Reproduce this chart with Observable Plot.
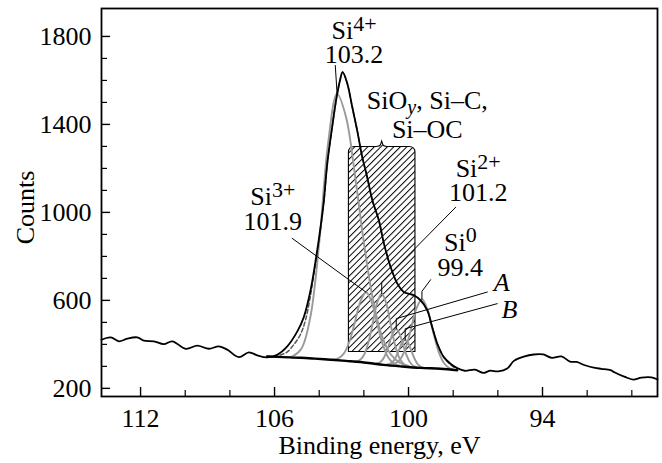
<!DOCTYPE html>
<html>
<head>
<meta charset="utf-8">
<script src="https://cdn.jsdelivr.net/npm/d3@7"></script>
<script src="https://cdn.jsdelivr.net/npm/@observablehq/plot@0.6"></script>
<style>
  body { margin: 0; background: #fff; }
  #chart svg { display: block; }
</style>
</head>
<body>
<div id="chart"></div>
<script>
// Si 2p region: measured counts versus binding energy (eV)
const dataE = [113.75, 113.34, 112.97, 112.60, 112.15, 111.85, 111.40, 110.96, 110.58, 109.98,
  109.46, 108.94, 108.49, 108.12, 107.60, 107.15, 106.77, 106.33, 105.88, 105.43,
  104.98, 104.69, 104.39, 104.16, 103.94, 103.79, 103.64, 103.42, 103.22, 103.07,
  102.95, 102.74, 102.52, 102.30, 102.07, 101.85, 101.62, 101.33, 101.10, 100.80,
  100.50, 100.21, 99.76, 99.46, 99.16, 98.94, 98.71, 98.42, 98.12, 97.82,
  97.48, 97.03, 96.65, 96.36, 95.98, 95.58, 95.28, 94.84, 94.39, 93.97,
  93.59, 93.15, 92.77, 92.47, 92.10, 91.65, 91.36, 90.95, 90.76, 90.31,
  89.94, 89.57, 89.12, 88.85];
const dataC = [421, 432, 414, 426, 432, 417, 414, 401, 414, 380,
  394, 380, 391, 376, 342, 364, 350, 341, 353, 391,
  459, 524, 645, 782, 933, 1055, 1221, 1388, 1524, 1600,
  1638, 1585, 1479, 1373, 1251, 1160, 1055, 964, 858, 751,
  676, 638, 623, 600, 555, 479, 403, 342, 312, 292,
  280, 285, 270, 280, 277, 290, 325, 344, 354, 354,
  339, 345, 322, 320, 305, 293, 289, 283, 272, 252,
  240, 249, 250, 240];

// Fitted envelope (sum of components plus background)
const envE = [106.33, 106.03, 105.73, 105.43, 105.13, 104.84, 104.61, 104.39, 104.16, 103.94,
  103.79, 103.64, 103.42, 103.22, 103.07, 102.95, 102.74, 102.52, 102.30, 102.07,
  101.85, 101.62, 101.33, 101.10, 100.80, 100.50, 100.21, 99.76, 99.46, 99.16,
  98.94, 98.71, 98.42, 98.12, 97.82];
const envC = [346, 347, 352, 366, 400, 445, 512, 622, 770, 925,
  1048, 1221, 1388, 1524, 1600, 1638, 1585, 1479, 1373, 1251,
  1160, 1055, 964, 858, 751, 676, 638, 623, 600, 555,
  479, 403, 342, 308, 286];

// Shirley-type background
const bgE = [106.33, 105.6, 104.84, 104.2, 103.49, 102.8, 102.15, 101.6, 101.12, 100.36, 99.46, 98.57, 97.82];
const bgC = [345, 342, 339, 335, 330, 325, 320, 313, 307, 300, 293, 289, 282];

// Fit components (drawn on top of the background)
const si4E = [105.6, 105.2, 104.8, 104.4, 104.0, 103.6, 103.2, 102.8, 102.4, 102.0, 101.6, 101.2, 100.8, 100.4, 100.0];
const si4C = [341, 346, 380, 522, 861, 1316, 1540, 1434, 1170, 862, 607, 441, 355, 317, 302];
const si3E = [103.4, 103.15, 102.9, 102.65, 102.4, 102.15, 101.9, 101.65, 101.4, 101.15, 100.9, 100.65, 100.4];
const si3C = [331, 336, 358, 412, 502, 597, 637, 592, 493, 399, 339, 313, 303];
const si2E = [102.4, 102.2, 102.0, 101.8, 101.6, 101.4, 101.2, 101.0, 100.8, 100.6, 100.4, 100.2, 100.0];
const si2C = [322, 328, 351, 407, 498, 591, 630, 587, 490, 396, 336, 310, 300];
const aE = [101.45, 101.3, 101.15, 101.0, 100.85, 100.7, 100.55, 100.4, 100.25, 100.1, 99.95, 99.8, 99.65];
const aC = [313, 317, 332, 361, 407, 451, 470, 448, 401, 353, 321, 303, 297];
const bE = [100.99, 100.85, 100.71, 100.57, 100.43, 100.29, 100.15, 100.01, 99.87, 99.73, 99.59, 99.45, 99.31];
const bC = [308, 311, 320, 342, 375, 407, 420, 405, 370, 335, 310, 298, 293];
const si0E = [100.9, 100.65, 100.4, 100.15, 99.9, 99.65, 99.4, 99.15, 98.9, 98.65, 98.4, 98.15, 97.9];
const si0C = [307, 311, 328, 377, 465, 562, 605, 558, 457, 366, 313, 291, 283];

// Peak positions and apex counts: Si4+, Si3+, Si2+, Si0, A, B
const peakCenters = [103.2, 101.9, 101.2, 99.4, 100.55, 100.15];
const peakTops = [1540, 637, 630, 605, 470, 420];
// Leader lines: label-side end, and the knee above each apex
const leadE = [103.28, 105.21, 97.89, 99.01, 96.47, 96.03];
const leadC = [1668, 882, 1023, 694, 638, 585];
const kneeC = [1540, 637, 683, 641, 517, 471];

// Peak labels
const labelNames = ["Si^{4+}", "Si^{3+}", "Si^{2+}", "Si^{0}"];
const labelE = [102.44, 106.08, 96.88, 97.68];
const labelNameC = [1826, 1071, 1197, 864];
const labelValueC = [1715, 958, 1091, 750];
const letterNames = ["A", "B"];
const letterE = [95.83, 95.48];
const letterC = [682, 560];

// Shaded SiOy / Si–C / Si–OC region
const bandE = [102.67, 99.69];
const bandC = [365, 1297];
const groupLines = ["SiO_{y}, Si–C,", "Si–OC"];
const groupE = 99.16;
const groupC = [1508, 1376];

// Axis ticks
const xMajor = [112, 106, 100, 94];
const xMinor = [110, 108, 104, 102, 98, 96, 92, 90];
const yMajor = [200, 600, 1000, 1400, 1800];
const yMinor = [300, 400, 500, 700, 800, 900, 1100, 1200, 1300, 1500, 1600, 1700];

// ---- tables for the marks ----
const zip = (E, C, extra = {}) => E.map((e, i) => ({e, c: C[i], ...extra}));
const raw = zip(dataE, dataC);
const envelope = zip(envE, envC);
const background = zip(bgE, bgC);
const components = [
  ...zip(si4E, si4C, {name: "Si4+"}),
  ...zip(si3E, si3C, {name: "Si3+"}),
  ...zip(si2E, si2C, {name: "Si2+"}),
  ...zip(aE, aC, {name: "A"}),
  ...zip(bE, bC, {name: "B"}),
  ...zip(si0E, si0C, {name: "Si0"})
];
const leaders = peakCenters.flatMap((p, i) => [
  {id: i, e: leadE[i], c: leadC[i]},
  {id: i, e: p, c: kneeC[i]},
  {id: i, e: p, c: peakTops[i]}
]);
const names = labelNames.map((t, i) => ({t, e: labelE[i], c: labelNameC[i]}));
const values = labelNames.map((t, i) => ({t: peakCenters[i].toFixed(1), e: labelE[i], c: labelValueC[i]}));
const letters = letterNames.map((t, i) => ({t, e: letterE[i], c: letterC[i]}));
const group = groupLines.map((t, i) => ({t, e: groupE, c: groupC[i]}));
const band = [{x1: bandE[0], x2: bandE[1], y1: bandC[0], y2: bandC[1]}];

const W = 662, H = 463;
const M = {top: 8, right: 5, bottom: 67, left: 101};
const innerW = W - M.left - M.right;
const innerH = H - M.top - M.bottom;

const chart = Plot.plot({
  width: W,
  height: H,
  marginTop: M.top,
  marginRight: M.right,
  marginBottom: M.bottom,
  marginLeft: M.left,
  x: {domain: [113.75, 88.85]},
  y: {domain: [163, 1927]},
  style: {fontFamily: "'Liberation Serif', 'Times New Roman', serif", fontSize: "26px", background: "#fff", color: "#000"},
  marks: [
    Plot.rect(band, {x1: "x1", x2: "x2", y1: "y1", y2: "y2", fill: "url(#hatch)", stroke: "#000", strokeWidth: 1.1}),
    Plot.line(components, {x: "e", y: "c", z: "name", stroke: "#999", strokeWidth: 1.9, curve: "catmull-rom"}),
    Plot.line(envelope, {x: "e", y: "c", stroke: "#555", strokeWidth: 1.5, strokeDasharray: "4 2.5", curve: "catmull-rom"}),
    Plot.line(background, {x: "e", y: "c", stroke: "#000", strokeWidth: 2.4, curve: "catmull-rom"}),
    Plot.line(raw, {x: "e", y: "c", stroke: "#000", strokeWidth: 1.8, curve: "catmull-rom"}),
    Plot.line(leaders, {x: "e", y: "c", z: "id", stroke: "#000", strokeWidth: 1}),
    Plot.text(names, {x: "e", y: "c", text: "t"}),
    Plot.text(values, {x: "e", y: "c", text: "t"}),
    Plot.text(group, {x: "e", y: "c", text: "t"}),
    Plot.text(letters, {x: "e", y: "c", text: "t", fontStyle: "italic"}),
    Plot.tickX(xMajor, {x: d => d, insetTop: innerH - 9, stroke: "#000", strokeWidth: 1.4}),
    Plot.tickX(xMinor, {x: d => d, insetTop: innerH - 6, stroke: "#000", strokeWidth: 1.2}),
    Plot.tickY(yMajor, {y: d => d, insetRight: innerW - 9, stroke: "#000", strokeWidth: 1.4}),
    Plot.tickY(yMinor, {y: d => d, insetRight: innerW - 6, stroke: "#000", strokeWidth: 1.2}),
    Plot.axisX(xMajor, {tickSize: 0, tickPadding: 12, tickFormat: d => String(d), label: null}),
    Plot.axisY(yMajor, {tickSize: 0, tickPadding: 10, tickFormat: d => String(d), label: null}),
    Plot.text(["Binding energy, eV"], {text: d => d, frameAnchor: "bottom", lineAnchor: "middle", textAnchor: "middle", dy: 49}),
    Plot.text(["Counts"], {text: d => d, frameAnchor: "left", lineAnchor: "middle", textAnchor: "middle", rotate: -90, dx: -76, dy: 5}),
    Plot.frame({stroke: "#000", strokeWidth: 1.8})
  ]
});

const NS = "http://www.w3.org/2000/svg";

// Diagonal hatching used by the shaded region
const defs = document.createElementNS(NS, "defs");
defs.innerHTML = '<pattern id="hatch" patternUnits="userSpaceOnUse" width="4.6" height="4.6" patternTransform="rotate(45)">' +
  '<line x1="0.5" y1="0" x2="0.5" y2="4.6" stroke="#000" stroke-width="1"/></pattern>';
chart.insertBefore(defs, chart.firstChild);

// Rounded top corners and a small brace on the shaded region
const box = chart.querySelector('g[fill="url(#hatch)"] rect');
if (box) {
  const x = +box.getAttribute("x"), y = +box.getAttribute("y");
  const w = +box.getAttribute("width"), h = +box.getAttribute("height");
  const r = 6, cx = x + w / 2, b = 6;
  const path = document.createElementNS(NS, "path");
  path.setAttribute("d",
    `M${x},${y + h}V${y + r}Q${x},${y} ${x + r},${y}` +
    `H${cx - b}Q${cx - 1},${y} ${cx - 0.8},${y - 3}L${cx},${y - 5.5}L${cx + 0.8},${y - 3}Q${cx + 1},${y} ${cx + b},${y}` +
    `H${x + w - r}Q${x + w},${y} ${x + w},${y + r}V${y + h}Z`);
  box.replaceWith(path);
}

// Superscripts (^{...}) and italic subscripts (_{...}) in labels
chart.querySelectorAll("text").forEach((t) => {
  const s = t.textContent;
  if (!/[\^_]\{/.test(s)) return;
  t.textContent = "";
  let cur = 0;
  for (const m of s.matchAll(/([\^_])\{([^}]*)\}|([^\^_]+)/g)) {
    const span = document.createElementNS(NS, "tspan");
    let off = 0;
    if (m[3] !== undefined) {
      span.textContent = m[3];
    } else {
      span.textContent = m[2];
      if (m[1] === "^") {
        off = -8.5;
        span.setAttribute("font-size", "22");
      } else {
        off = 5;
        span.setAttribute("font-size", "20");
        span.setAttribute("font-style", "italic");
      }
    }
    if (off !== cur) span.setAttribute("dy", off - cur);
    cur = off;
    t.appendChild(span);
  }
});

document.getElementById("chart").appendChild(chart);
</script>
</body>
</html>
